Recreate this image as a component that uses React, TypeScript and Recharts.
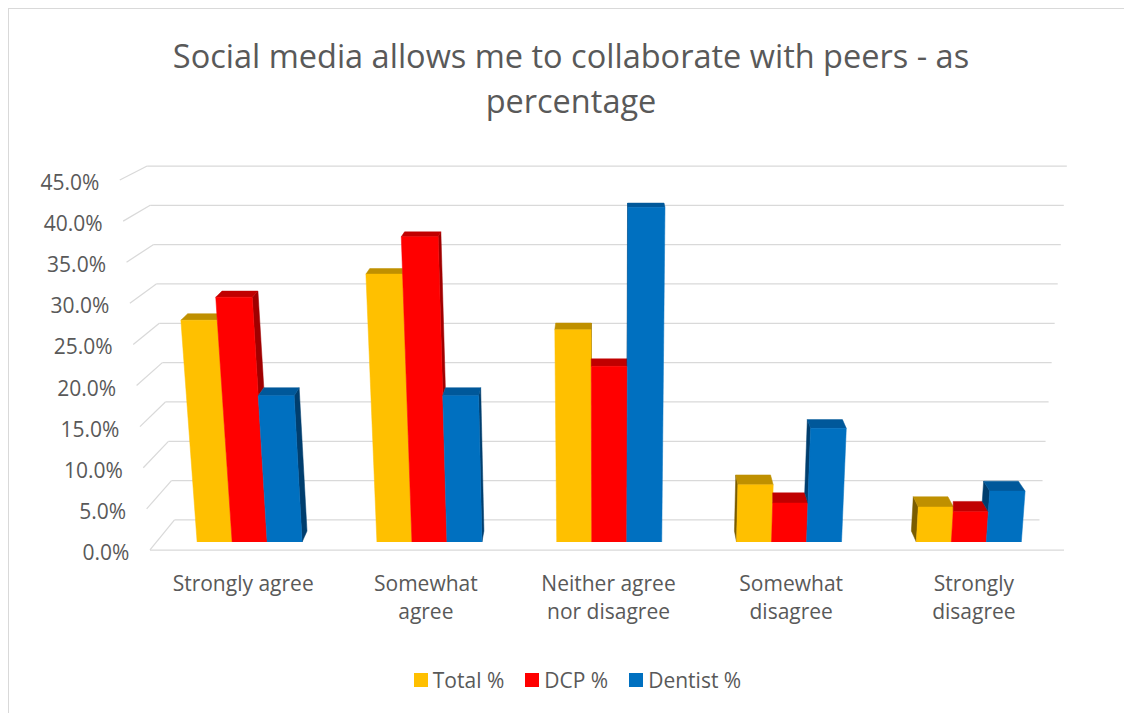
import React from 'react';
import { BarChart, Bar, XAxis, YAxis, CartesianGrid, Legend } from 'recharts';

// ---- data -------------------------------------------------------------
const categories = [
  'Strongly agree',
  'Somewhat agree',
  'Neither agree nor disagree',
  'Somewhat disagree',
  'Strongly disagree',
];
const tickLabelLines = [
  ['Strongly agree'],
  ['Somewhat', 'agree'],
  ['Neither agree', 'nor disagree'],
  ['Somewhat', 'disagree'],
  ['Strongly', 'disagree'],
];
const totalPct = [27.9, 33.7, 26.7, 7.2, 4.4];
const dcpPct = [30.8, 38.4, 22.1, 4.9, 3.8];
const dentistPct = [18.4, 18.4, 42.1, 14.3, 6.4];
const yTicks = [0, 5, 10, 15, 20, 25, 30, 35, 40, 45];

const seriesKeys = ['total', 'dcp', 'dentist'];
const seriesNames = ['Total %', 'DCP %', 'Dentist %'];
const frontColors = ['#FFC000', '#FF0000', '#0070C0'];
const capColors = ['#BF9000', '#C00000', '#00589A'];
const sideColors = ['#7A5C00', '#A00000', '#003E6E'];

const rows = categories.map((category, i) => ({
  category,
  total: totalPct[i],
  dcp: dcpPct[i],
  dentist: dentistPct[i],
}));

// ---- layout / perspective ------------------------------------------------
const W = 1124;
const H = 705;
const TEXT = '#595959';
const GRID = '#d9d9d9';
const FONT = '"Open Sans", sans-serif';
const LABEL_SIZE = 21;

const CX = 598; // horizontal centre of the perspective
const FLARE = 5600; // vertical lines spread apart as they rise
const VPY = -16; // depth vanishing height
const KX = 0.016; // bar depth, horizontal share
const KY = 0.02; // bar depth, vertical share
const BACK_BASE = 511; // back wall floor line
const FRONT_BASE = 541; // front floor edge
const BACK_HALF = 432.5;
const FRONT_HALF = 457;
const FRONT_PER_BACK = 1.0451;

type Pt = [number, number];
const pts = (p: Pt[]) => p.map((q) => `${q[0].toFixed(2)},${q[1].toFixed(2)}`).join(' ');

function makeBarShape(si: number) {
  return (props: any) => {
    const { x, y, width, height, payload } = props;
    const v = payload[seriesKeys[si]];
    if (!height || height <= 0 || !v) return <g />;
    const base = y + height;
    const perUnit = height / v;
    const flare = (px: number, py: number) => CX + (px - CX) * (1 + (base - py) / FLARE);
    const back = (p: Pt): Pt => [p[0] + (CX - p[0]) * KX, p[1] + (VPY - p[1]) * KY];

    const xl = flare(x, y);
    const xr = flare(x + width, y);
    const front: Pt[] = [[x, base], [x + width, base], [xr, y], [xl, y]];

    const rightSide = x + width / 2 < CX;
    const nIdx = rightSide ? si + 1 : si - 1;
    const nVal = nIdx >= 0 && nIdx < seriesKeys.length ? payload[seriesKeys[nIdx]] : 0;

    let side: Pt[] | null = null;
    if (nVal < v) {
      const edge = rightSide ? x + width : x;
      const cutY = base - nVal * perUnit;
      const top: Pt = [rightSide ? xr : xl, y];
      const cut: Pt = [flare(edge, cutY), cutY];
      side = [top, cut, back(cut), back(top)];
    }

    const tl: Pt = [xl, y];
    const tr: Pt = [xr, y];
    const tlB = back(tl);
    const trB = back(tr);
    let cap: Pt[] = [tl, tr, trB, tlB];
    if (nVal > v) {
      cap = rightSide ? [tl, tr, [xr, trB[1]], tlB] : [tl, tr, trB, [xl, tlB[1]]];
    }

    return (
      <g>
        {side && (
          <polygon points={pts(side)} fill={sideColors[si]} stroke={sideColors[si]} strokeWidth={0.5} />
        )}
        <polygon points={pts(cap)} fill={capColors[si]} stroke={capColors[si]} strokeWidth={0.5} />
        <polygon points={pts(front)} fill={frontColors[si]} stroke={frontColors[si]} strokeWidth={0.5} />
      </g>
    );
  };
}

// back-wall gridlines, narrowing towards the floor
const gridLine = (p: any) => {
  const y = p.y1;
  if (y > BACK_BASE + 2) return <g key={p.key} />;
  const half = BACK_HALF * (1 + (BACK_BASE - y) / FLARE);
  return (
    <line key={p.key} x1={CX - half} x2={CX + half} y1={y} y2={y} stroke={GRID} strokeWidth={1.25} />
  );
};

// value labels sit on the front edge, joined to the back wall by a slanted line
const ValueTick = (p: any) => {
  const yb = p.y;
  const v = p.payload.value;
  const yf = FRONT_BASE - (BACK_BASE - yb) * FRONT_PER_BACK;
  const xf = CX - FRONT_HALF * (1 + (FRONT_BASE - yf) / FLARE);
  const xb = CX - BACK_HALF * (1 + (BACK_BASE - yb) / FLARE);
  return (
    <g>
      <line x1={xf} y1={yf} x2={xb} y2={yb} stroke={GRID} strokeWidth={1.25} />
      {v === 0 && (
        <line x1={CX - FRONT_HALF} x2={CX + FRONT_HALF} y1={FRONT_BASE} y2={FRONT_BASE} stroke={GRID} strokeWidth={1.25} />
      )}
      <text x={xf - 20.5} y={yf + 10} textAnchor="end" fill={TEXT} fontSize={LABEL_SIZE} fontFamily={FONT}>
        {`${v.toFixed(1)}%`}
      </text>
    </g>
  );
};

const CategoryTick = (p: any) => {
  const idx = categories.indexOf(p.payload.value);
  const lines = tickLabelLines[idx] || [p.payload.value];
  const x = CX + (p.x - CX) * 1.016;
  return (
    <text x={x} y={p.y + 49} textAnchor="middle" fill={TEXT} fontSize={LABEL_SIZE} fontFamily={FONT}>
      {lines.map((l, i) => (
        <tspan key={i} x={x} dy={i === 0 ? 0 : 28}>
          {l}
        </tspan>
      ))}
    </text>
  );
};

const renderLegend = () => (
  <div
    style={{
      height: 28,
      display: 'flex',
      justifyContent: 'center',
      alignItems: 'center',
      paddingLeft: 13,
      fontFamily: FONT,
      fontSize: LABEL_SIZE,
      color: TEXT,
    }}
  >
    {seriesNames.map((n, i) => (
      <span key={n} style={{ display: 'flex', alignItems: 'center', marginRight: i < 2 ? 21 : 0 }}>
        <span style={{ width: 14, height: 14, background: frontColors[i], marginRight: 5, display: 'inline-block' }} />
        {n}
      </span>
    ))}
  </div>
);

export default function App() {
  return (
    <div
      style={{
        position: 'relative',
        width: W,
        height: H,
        borderLeft: `1px solid ${GRID}`,
        borderTop: `1px solid ${GRID}`,
        fontFamily: FONT,
        background: '#fff',
      }}
    >
      <div
        style={{
          position: 'absolute',
          top: 23.5,
          left: 0,
          width: W,
          textAlign: 'center',
          fontSize: 32.5,
          lineHeight: '45px',
          color: TEXT,
          pointerEvents: 'none',
          zIndex: 2,
        }}
      >
        Social media allows me to collaborate with peers - as
        <br />
        percentage
      </div>
      <BarChart
        width={W}
        height={H}
        data={rows}
        margin={{ top: 157, right: 75, bottom: 20, left: 0 }}
        barCategoryGap="21.2%"
        barGap={0}
      >
        <CartesianGrid yAxisId="back" vertical={false} horizontal={gridLine} syncWithTicks />
        <XAxis
          dataKey="category"
          axisLine={false}
          tickLine={false}
          tickSize={0}
          tickMargin={0}
          interval={0}
          height={124}
          tick={(p: any) => <CategoryTick {...p} />}
        />
        <YAxis
          yAxisId="back"
          type="number"
          domain={[-2.8, 45]}
          ticks={yTicks}
          allowDataOverflow
          interval={0}
          width={150}
          axisLine={false}
          tickLine={false}
          tick={(p: any) => <ValueTick {...p} />}
        />
        <YAxis yAxisId="bar" type="number" domain={[0, 47.3]} allowDataOverflow hide />
        <Legend verticalAlign="bottom" height={28} content={renderLegend} wrapperStyle={{ left: 0, width: W }} />
        {seriesKeys.map((k, i) => (
          <Bar
            key={k}
            yAxisId="bar"
            dataKey={k}
            name={seriesNames[i]}
            fill={frontColors[i]}
            shape={makeBarShape(i)}
            isAnimationActive={false}
          />
        ))}
      </BarChart>
    </div>
  );
}
